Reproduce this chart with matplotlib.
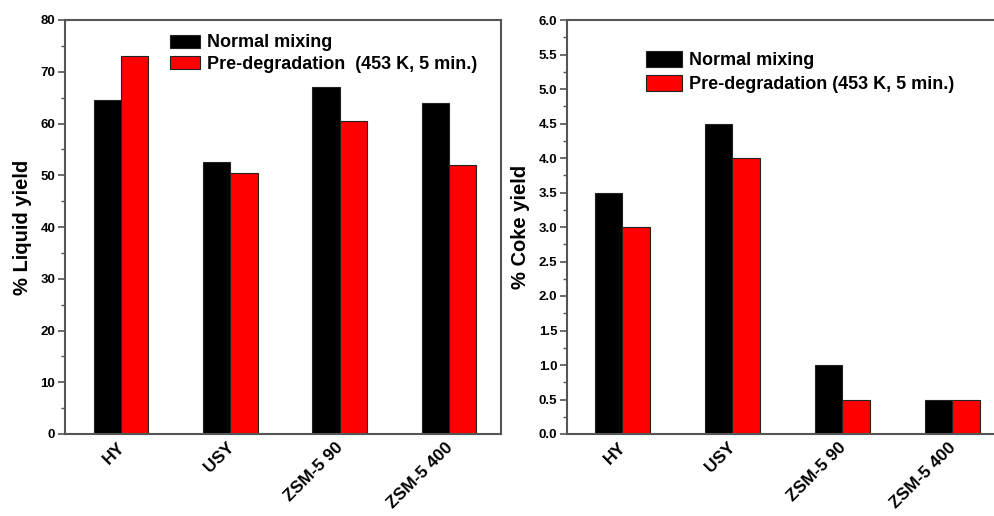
"""Liquid and coke yields for normal mixing vs pre-degradation, per catalyst."""

import matplotlib

matplotlib.use("Agg")
import matplotlib.pyplot as plt
import matplotlib.transforms as mtransforms
import numpy as np
from matplotlib.ticker import FormatStrFormatter, MultipleLocator

plt.rcParams["font.family"] = ["Liberation Sans", "DejaVu Sans"]
plt.rcParams["font.weight"] = "bold"

catalysts = ["HY", "USY", "ZSM-5 90", "ZSM-5 400"]
series_labels = ["Normal mixing", "Pre-degradation  (453 K, 5 min.)"]
series_labels_coke = ["Normal mixing", "Pre-degradation (453 K, 5 min.)"]
liquid_normal = [64.5, 52.5, 67.0, 64.0]
liquid_predeg = [73.0, 50.5, 60.5, 52.0]
coke_normal = [3.5, 4.5, 1.0, 0.5]
coke_predeg = [3.0, 4.0, 0.5, 0.5]

COLORS = ["#000000", "#ff0000"]
SPINE = "#555555"
W, H = 994, 516


def style_axis(ax, fig, ylim, major, minor, ylabel):
    ax.set_ylim(*ylim)
    ax.yaxis.set_major_locator(MultipleLocator(major))
    ax.yaxis.set_minor_locator(MultipleLocator(minor))
    ax.tick_params(axis="y", which="major", direction="out", length=5, width=1.2,
                   color=SPINE, labelsize=9.5, pad=2)
    ax.tick_params(axis="y", which="minor", direction="out", length=3, width=1.0, color=SPINE)
    ax.tick_params(axis="x", length=0, labelsize=12.5, pad=4)
    for lab in ax.get_yticklabels():
        lab.set_fontweight("bold")
    shift = mtransforms.ScaledTranslation(-4 / 100, 0, fig.dpi_scale_trans)
    for lab in ax.get_xticklabels():
        lab.set_fontweight("bold")
        lab.set_transform(lab.get_transform() + shift)
    ax.set_ylabel(ylabel, fontsize=14.5, fontweight="bold", labelpad=6)
    for spine in ax.spines.values():
        spine.set_color(SPINE)
        spine.set_linewidth(1.5)


def draw(ax, a, b):
    x = np.arange(1, len(catalysts) + 1)
    w = 0.25
    bars = []
    for vals, off, col in ((a, -w / 2, COLORS[0]), (b, w / 2, COLORS[1])):
        bars.append(ax.bar(x + off, vals, width=w, color=col, edgecolor="#222222",
                           linewidth=0.8, zorder=2))
    ax.set_xticks(x)
    ax.set_xticklabels(catalysts, rotation=45, ha="right", rotation_mode="anchor")
    return bars


fig = plt.figure(figsize=(W / 100, H / 100), dpi=100)

# left panel: liquid yield
ax1 = fig.add_axes([65 / W, (H - 434) / H, (501 - 65) / W, 414 / H])
bars1 = draw(ax1, liquid_normal, liquid_predeg)
ax1.set_xlim(0.488, 4.476)
style_axis(ax1, fig, (0, 80), 10, 5, "% Liquid yield")
ax1.legend(bars1, series_labels, loc="upper left", bbox_to_anchor=(0.24, 0.965),
           frameon=False, handlelength=1.7, handleheight=0.75,
           handletextpad=0.35, labelspacing=0.25, borderpad=0, borderaxespad=0,
           prop={"weight": "bold", "size": 13})

# right panel: coke yield (runs past the right edge of the figure)
ax2 = fig.add_axes([567 / W, (H - 434) / H, 440 / W, 414 / H])
bars2 = draw(ax2, coke_normal, coke_predeg)
ax2.set_xlim(0.5, 4.5)
ax2.yaxis.set_major_formatter(FormatStrFormatter("%.1f"))
style_axis(ax2, fig, (0, 6), 0.5, 0.25, "% Coke yield")
ax2.spines["right"].set_visible(False)
ax2.legend(bars2, series_labels_coke, loc="upper left", bbox_to_anchor=(0.18, 0.925),
           frameon=False, handlelength=2.0, handleheight=1.0,
           handletextpad=0.35, labelspacing=0.3, borderpad=0, borderaxespad=0,
           prop={"weight": "bold", "size": 13})

fig.savefig("out.png", dpi=100)
